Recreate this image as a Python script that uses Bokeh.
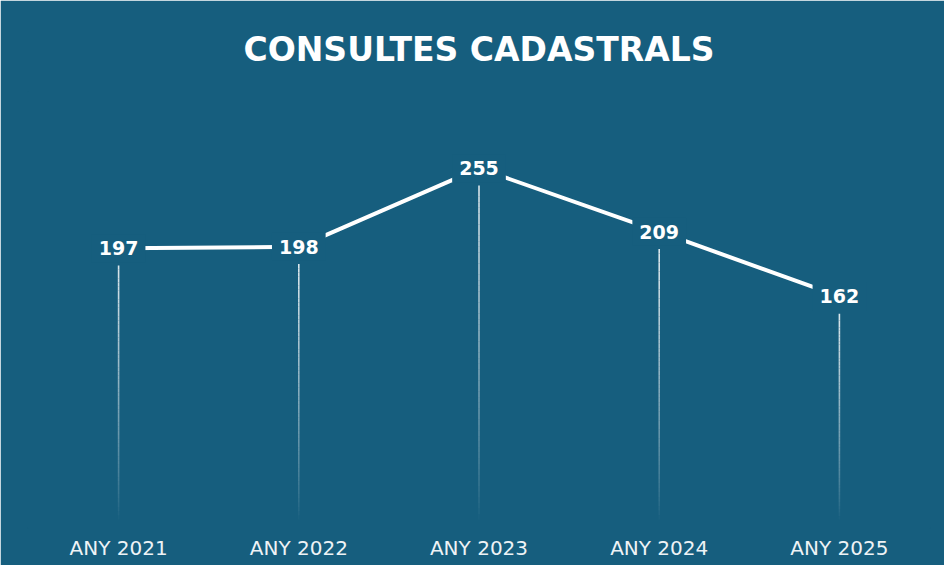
import numpy as np
from bokeh.plotting import figure
from bokeh.models import Range1d, ColumnDataSource, Title
from bokeh.core.properties import value
from bokeh.embed import file_html
from bokeh.resources import INLINE

# ---- data ----
years = ["ANY 2021", "ANY 2022", "ANY 2023", "ANY 2024", "ANY 2025"]
consultes = [197, 198, 255, 209, 162]
title_text = "CONSULTES CADASTRALS"

BG = "#165E7E"
FONT = "DejaVu Sans"

p = figure(
    x_range=years,
    y_range=Range1d(-5.66, 310.0),
    width=944, height=565,
    output_backend="svg", toolbar_location=None,
    min_border_left=28, min_border_right=15,
    min_border_top=92, min_border_bottom=38,
    background_fill_color=BG, border_fill_color=BG,
)
p.outline_line_color = BG
p.outline_line_width = 3

p.title = Title(text=title_text, align="center", text_font=FONT,
                text_font_size="33px", text_font_style="bold",
                text_color="white", standoff=48)

# ---- fading drop lines (gradient emulated by stacked segments) ----
N = 60
t = np.linspace(0.0, 1.0, N + 1)
sx, sy0, sy1, sa = [], [], [], []
for yr, v in zip(years, consultes):
    top = v - 12.5
    edges = top - t * top
    for k in range(N):
        mid = 0.5 * (t[k] + t[k + 1])
        sx.append(yr)
        sy0.append(edges[k])
        sy1.append(edges[k + 1])
        sa.append(0.85 * (1.0 - mid) ** 0.8)
seg_src = ColumnDataSource(dict(x=sx, y0=sy0, y1=sy1, a=sa))
p.segment(x0="x", y0="y0", x1="x", y1="y1", source=seg_src,
          line_color="white", line_alpha="a", line_width=1.6)

# ---- main line ----
p.line(years, consultes, line_color="white", line_width=4)

# ---- value labels with background (masking the line) ----
lab_src = ColumnDataSource(dict(x=years, y=consultes, t=[str(v) for v in consultes]))
p.text(x="x", y="y", text="t", source=lab_src,
       text_align="center", text_baseline="middle",
       text_font=value(FONT), text_font_style="bold", text_font_size="19px",
       text_color="white",
       background_fill_color=BG, padding=7)

# ---- axes ----
p.yaxis.visible = False
p.xgrid.grid_line_color = None
p.ygrid.grid_line_color = None
p.xaxis.axis_line_color = None
p.xaxis.major_tick_line_color = None
p.xaxis.minor_tick_line_color = None
p.xaxis.major_tick_out = 0
p.xaxis.major_tick_in = 0
p.xaxis.major_label_standoff = 8
p.xaxis.major_label_text_color = "#eef3f6"
p.xaxis.major_label_text_font = FONT
p.xaxis.major_label_text_font_size = "20px"

open("out.html", "w").write(file_html(p, INLINE))
